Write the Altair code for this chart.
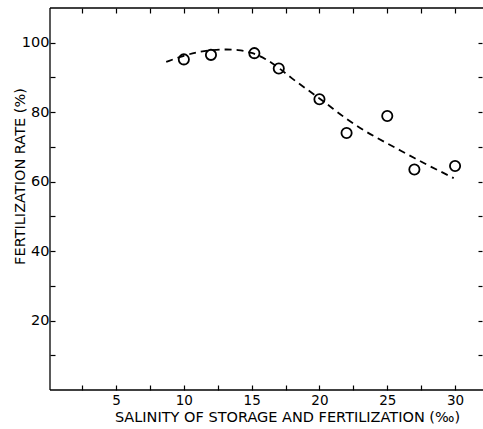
import altair as alt
import pandas as pd

# observed points
salinity = [10, 12, 15.2, 17, 20, 22, 25, 27, 30]
fert_rate = [95.2, 96.5, 97.0, 92.6, 83.7, 74.0, 78.9, 63.5, 64.5]

# fitted dashed curve
curve_x = [8.7, 10, 11, 12, 13, 14, 15, 16, 17, 18, 19, 20, 21, 22, 23, 24, 25, 26, 27, 28, 29, 29.9]
curve_y = [94.5, 96.3, 97.3, 97.9, 98.1, 98.0, 97.2, 95.5, 92.8, 89.6, 86.8, 84.0, 81.0,
           78.0, 75.4, 73.1, 71.0, 68.9, 66.8, 64.7, 62.8, 61.0]

x_ticks = [2.5, 5, 7.5, 10, 12.5, 15, 17.5, 20, 22.5, 25, 27.5, 30]
y_ticks = [10, 20, 30, 40, 50, 60, 70, 80, 90, 100]

pts = pd.DataFrame({"x": salinity, "y": fert_rate})
crv = pd.DataFrame({"x": curve_x, "y": curve_y})

W, H = 433, 382
FONT = "DejaVu Sans"
xs = alt.Scale(domain=[0.13, 32.06], nice=False, zero=False)
ys = alt.Scale(domain=[0, 110], nice=False, zero=False)

x_main = alt.Axis(
    values=x_ticks, labelExpr="datum.value % 5 == 0 ? datum.label : ''",
    offset=-5, domain=False, tickSize=5, tickColor="black", tickWidth=1.2,
    labelPadding=3, labelFont=FONT, labelFontSize=13.5, labelColor="black",
    grid=False, title="SALINITY OF STORAGE AND FERTILIZATION (‰)",
    titleFont=FONT, titleFontSize=14.5, titleFontWeight="normal", titleColor="black",
    titleX=237, titleY=36, titleBaseline="alphabetic", titleAnchor="middle",
)
y_main = alt.Axis(
    values=y_ticks, labelExpr="datum.value % 20 == 0 ? datum.label : ''",
    offset=-5, domain=False, tickSize=5, tickColor="black", tickWidth=1.2,
    labelPadding=1, labelFont=FONT, labelFontSize=14.5, labelColor="black",
    grid=False, title="FERTILIZATION RATE (%)",
    titleFont=FONT, titleFontSize=14.5, titleFontWeight="normal", titleColor="black",
    titleX=-28, titleY=168, titleAnchor="middle",
)
x_top = alt.Axis(values=x_ticks, labels=False, offset=-5, domain=False, tickSize=5,
                 tickColor="black", tickWidth=1.2, grid=False, title=None, orient="top")
y_right = alt.Axis(values=y_ticks, labels=False, offset=-5, domain=False, tickSize=4,
                   tickColor="black", tickWidth=1.2, grid=False, title=None, orient="right")

points = alt.Chart(pts).mark_point(
    shape="circle", filled=False, color="black", size=105, strokeWidth=1.8, opacity=1
).encode(
    x=alt.X("x:Q", scale=xs, axis=x_main),
    y=alt.Y("y:Q", scale=ys, axis=y_main),
)

line = alt.Chart(crv).mark_line(
    color="black", strokeWidth=1.8, strokeDash=[7, 5], interpolate="basis"
).encode(
    x=alt.X("x:Q", scale=xs, axis=x_top),
    y=alt.Y("y:Q", scale=ys, axis=y_right),
)

# open frame (left, top, bottom); the right side runs off the page
frame_src = pd.DataFrame({"k": [0]})
frame_top = alt.Chart(frame_src).mark_rule(color="black", strokeWidth=1.3).encode(
    x=alt.value(0), x2=alt.value(W), y=alt.value(0))
frame_bottom = alt.Chart(frame_src).mark_rule(color="black", strokeWidth=1.3).encode(
    x=alt.value(0), x2=alt.value(W), y=alt.value(H))
frame_left = alt.Chart(frame_src).mark_rule(color="black", strokeWidth=1.3).encode(
    x=alt.value(0), y=alt.value(0), y2=alt.value(H))

chart = alt.layer(points, line, frame_top, frame_bottom, frame_left).resolve_axis(
    x="independent", y="independent"
).properties(
    width=W, height=H,
    autosize=alt.AutoSizeParams(type="none"),
    padding={"left": 50, "top": 8, "right": 0, "bottom": 34},
    background="white",
).configure_view(stroke="transparent", strokeWidth=0)

chart.save("out.html", embed_options={"renderer": "svg", "actions": False})
